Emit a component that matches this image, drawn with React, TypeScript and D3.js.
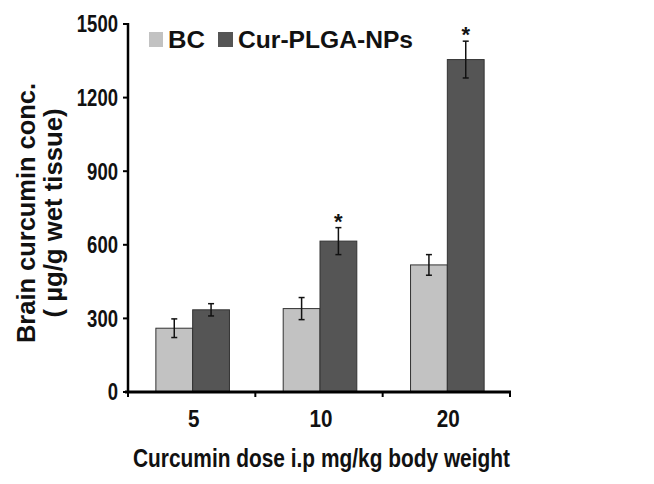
import React from 'react';
import { scaleBand, scaleLinear } from 'd3';

const doses = ['5', '10', '20'];
const seriesKeys = ['BC', 'Cur-PLGA-NPs'];
const bcValues = [260, 340, 518];
const bcErrors = [38, 45, 42];
const curValues = [335, 615, 1355];
const curErrors = [25, 55, 75];
const significant = [false, true, true];
const yTicks = [0, 300, 600, 900, 1200, 1500];

const colors: Record<string, string> = { 'BC': '#c2c2c2', 'Cur-PLGA-NPs': '#555555' };
const font = '"Liberation Sans", Arial, sans-serif';

const W = 654;
const H = 484;
const left = 128;
const right = 510;
const top = 24;
const bottom = 392;

// narrow bold text: width pinned with textLength, the way the original face is condensed
function Narrow({ x, y, size, width, anchor = 'start', children }: any) {
  return (
    <text x={x} y={y} fontSize={size} textAnchor={anchor} textLength={width}
      lengthAdjust="spacingAndGlyphs" fill="#111">{children}</text>
  );
}

function App() {
  const x0 = scaleBand().domain(doses).range([left, right]).padding(0);
  const x1 = scaleBand().domain(seriesKeys).range([0, x0.bandwidth()]).paddingInner(0).paddingOuter(0.73);
  const y = scaleLinear().domain([0, 1500]).range([bottom, top]);

  const rows = doses.map((d, i) => ({
    dose: d,
    bars: [
      { key: 'BC', value: bcValues[i], err: bcErrors[i], star: false },
      { key: 'Cur-PLGA-NPs', value: curValues[i], err: curErrors[i], star: significant[i] },
    ],
  }));

  const bw = x1.bandwidth();

  return (
    <svg width={W} height={H} style={{ position: 'absolute', left: 0, top: 0, background: '#fff' }}
      fontFamily={font} fontWeight="bold">
      {rows.map(r => (
        <g key={r.dose} transform={`translate(${x0(r.dose)! + 1},0)`}>
          {r.bars.map(b => {
            const bx = x1(b.key)!;
            const cx = bx + bw / 2;
            return (
              <g key={b.key}>
                <rect x={bx} y={y(b.value)} width={bw} height={y(0) - y(b.value)}
                  fill={colors[b.key]} stroke="#333" strokeWidth={1} />
                <line x1={cx} x2={cx} y1={y(b.value + b.err)} y2={y(b.value - b.err)} stroke="#111" strokeWidth={1.5} />
                <line x1={cx - 3} x2={cx + 3} y1={y(b.value + b.err)} y2={y(b.value + b.err)} stroke="#111" strokeWidth={1.5} />
                <line x1={cx - 3} x2={cx + 3} y1={y(b.value - b.err)} y2={y(b.value - b.err)} stroke="#111" strokeWidth={1.5} />
                {b.star && (
                  <text x={cx} y={y(b.value + b.err) + 1} textAnchor="middle" fontSize={22} fill="#111">*</text>
                )}
              </g>
            );
          })}
        </g>
      ))}

      {/* y axis */}
      <line x1={left} x2={left} y1={top - 1} y2={bottom} stroke="#000" strokeWidth={2.5} />
      {yTicks.map(t => (
        <g key={t} transform={`translate(0,${y(t)})`}>
          <line x1={left - 5} x2={left} stroke="#000" strokeWidth={2} />
          <Narrow x={118} y={8.3} size={23} width={String(t).length * 10.3} anchor="end">{t}</Narrow>
        </g>
      ))}

      {/* x axis */}
      <line x1={left - 3} x2={right + 1} y1={bottom} y2={bottom} stroke="#000" strokeWidth={3} />
      {[...doses.map(d => x0(d)!), right].map((v, i) => (
        <line key={i} x1={v} x2={v} y1={bottom} y2={bottom + 5} stroke="#000" strokeWidth={2} />
      ))}
      {doses.map(d => (
        <Narrow key={d} x={x0(d)! + x0.bandwidth() / 2 + 2} y={427} size={23}
          width={d.length * 11.5} anchor="middle">{d}</Narrow>
      ))}

      <Narrow x={133} y={467} size={26} width={377}>Curcumin dose i.p mg/kg body weight</Narrow>

      <g transform="translate(35,213) rotate(-90)">
        <Narrow x={0} y={0} size={25} width={260} anchor="middle">Brain curcumin conc.</Narrow>
      </g>
      <g transform="translate(62,213) rotate(-90)">
        <Narrow x={0} y={0} size={25} width={209} anchor="middle">( µg/g wet tissue)</Narrow>
      </g>

      {/* legend */}
      <rect x={149} y={32} width={14} height={15} fill={colors['BC']} />
      <Narrow x={168} y={48} size={23} width={37}>BC</Narrow>
      <rect x={218} y={32} width={15} height={15} fill={colors['Cur-PLGA-NPs']} />
      <Narrow x={238} y={48} size={23} width={175}>Cur-PLGA-NPs</Narrow>
    </svg>
  );
}

export default App;
